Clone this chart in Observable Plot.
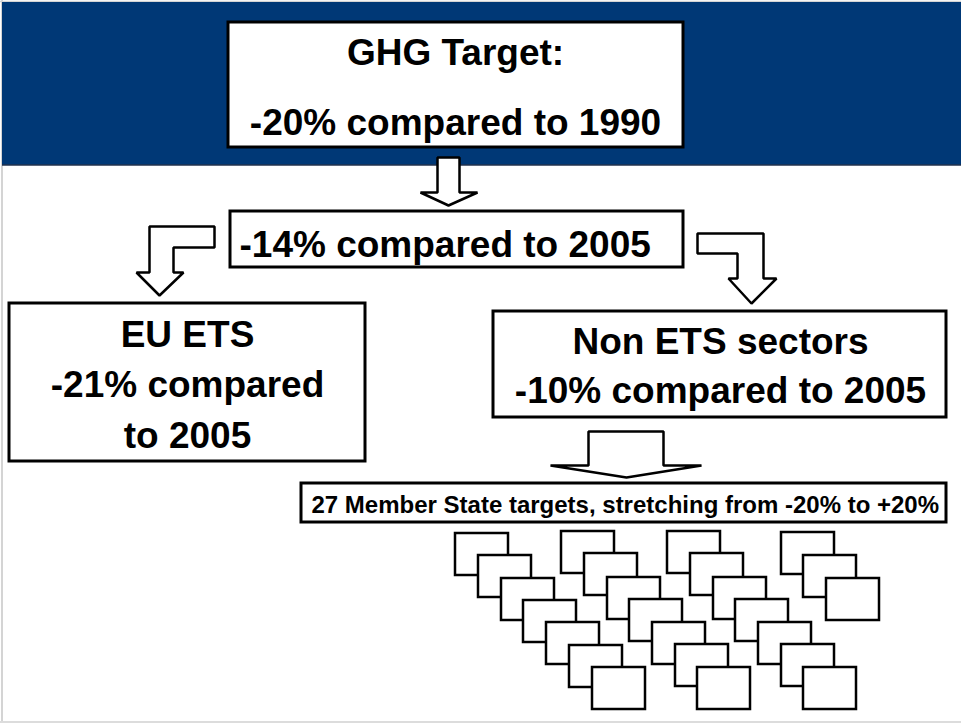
<!DOCTYPE html>
<html>
<head>
<meta charset="utf-8">
<script src="https://cdn.jsdelivr.net/npm/d3@7"></script>
<script src="https://cdn.jsdelivr.net/npm/@observablehq/plot@0.6"></script>
<style>
  html, body { margin: 0; padding: 0; background: #fff; overflow: hidden; }
  #chart svg { display: block; }
</style>
</head>
<body>
<div id="chart"></div>
<script>
// ---- Diagram content (diagram coordinates: x 0..961, y 0..723, y downward) ----
const headerBand = [{x1: 2, x2: 961, y1: 2, y2: 165}];

// text boxes: [x1, y1, x2, y2]
const boxNames = ["ghg", "total", "ets", "nonets", "member"];
const boxX1 = [228, 230, 9, 493, 301];
const boxY1 = [22, 211, 303, 311, 483];
const boxX2 = [683, 683, 365, 946, 946];
const boxY2 = [147, 267, 461, 417, 522];

// text lines
const lineTexts = [
  "GHG Target:", "-20% compared to 1990",
  "-14% compared to 2005",
  "EU ETS", "-21% compared", "to 2005",
  "Non ETS sectors", "-10% compared to 2005",
  "27 Member State targets, stretching from -20% to +20%"
];
const lineX = [455, 455, 239, 187, 187, 187, 720, 720, 311];
const lineY = [64, 134, 256, 346, 396, 447, 353, 402, 512];
const lineAnchor = ["middle", "middle", "start", "middle", "middle", "middle", "middle", "middle", "start"];
const lineSize = [37, 37, 37, 37, 37, 37, 37, 37, 24];

// block arrows (outline vertices)
const arrowDown = [[437,157],[459,157],[459,192],[477,192],[448,205],[420,192],[437,192]];
const arrowLeft = [[214,226],[149,226],[149,272],[136,272],[159,295],[183,272],[173,272],[173,247],[214,247]];
const arrowRight = [[697,233],[763,233],[763,278],[776,278],[751,303],[728,278],[737,278],[737,253],[697,253]];
const arrowBig = [[588,431],[663,431],[663,465],[701,465],[626,477],[550,465],[588,465]];

// 24 small boxes (top-left corners), drawn in order
const smallX = [455,478,501,523,546,569,592, 561,584,607,629,652,675,697, 667,690,713,735,758,781,803, 781,803,826];
const smallY = [533,555,578,600,622,645,667, 531,553,577,599,622,644,667, 531,553,577,599,622,644,667, 532,555,578];
const smallW = 53, smallH = 42;

// ---- build tables ----
const boxes = boxNames.map((n, i) => ({n, x1: boxX1[i], y1: boxY1[i], x2: boxX2[i], y2: boxY2[i]}));
const lines = lineTexts.map((t, i) => ({t, x: lineX[i], y: lineY[i], a: lineAnchor[i], s: lineSize[i]}));
const arrows = [arrowDown, arrowLeft, arrowRight, arrowBig]
  .flatMap((pts, k) => pts.map(([x, y]) => ({k, x, y})));
const smalls = smallX.map((x, i) => ({i, x1: x, y1: smallY[i], x2: x + smallW, y2: smallY[i] + smallH}));

const font = "'Liberation Sans', Arial, Helvetica, sans-serif";

const textMarks = [37, 24].flatMap(size =>
  ["start", "middle"].map(anchor =>
    Plot.text(lines.filter(d => d.s === size && d.a === anchor), {
      x: "x", y: "y", text: "t", textAnchor: anchor, lineAnchor: "bottom",
      fontSize: size, fontWeight: "bold", fill: "black"
    })
  )
);

const chart = Plot.plot({
  width: 961,
  height: 723,
  margin: 0,
  x: {domain: [0, 961], range: [0, 961], axis: null},
  y: {domain: [0, 723], range: [0, 723], axis: null},
  style: {fontFamily: font, background: "white"},
  marks: [
    // page frame
    Plot.ruleX([1.5], {y1: 0, y2: 723, stroke: "#d4d4d4", strokeWidth: 2}),
    Plot.ruleY([721.5], {x1: 0, x2: 961, stroke: "#dcdcdc", strokeWidth: 2}),
    Plot.ruleY([1], {x1: 0, x2: 961, stroke: "#d4d4d4", strokeWidth: 1.5}),
    // header band
    Plot.rect(headerBand, {x1: "x1", x2: "x2", y1: "y1", y2: "y2", fill: "#003876"}),
    Plot.ruleY([164.5], {x1: 2, x2: 961, stroke: "#22324e", strokeWidth: 1.5}),
    // arrows
    Plot.line(arrows, {x: "x", y: "y", z: "k", curve: "linear-closed",
      fill: "white", stroke: "black", strokeWidth: 2.5, strokeLinejoin: "miter"}),
    // text boxes
    Plot.rect(boxes, {x1: "x1", x2: "x2", y1: "y1", y2: "y2",
      fill: "white", stroke: "black", strokeWidth: 3}),
    // member state boxes
    Plot.rect(smalls, {x1: "x1", x2: "x2", y1: "y1", y2: "y2",
      fill: "white", stroke: "black", strokeWidth: 2.5}),
    ...textMarks
  ]
});

document.getElementById("chart").appendChild(chart);
</script>
</body>
</html>
